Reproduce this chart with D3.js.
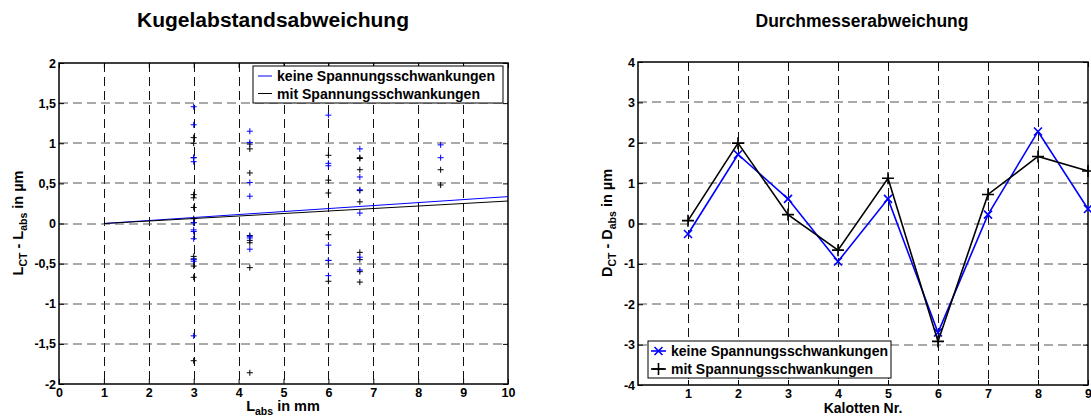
<!DOCTYPE html>
<html>
<head>
<meta charset="utf-8">
<script src="https://cdn.jsdelivr.net/npm/d3@7"></script>
<style>
  body { margin: 0; background: #fff; }
  svg { display: block; font-family: "Liberation Sans", Arial, sans-serif; font-weight: bold; }
</style>
</head>
<body>
<svg id="chart" width="1091" height="418"></svg>
<script>
// ---- left panel: Kugelabstandsabweichung ----
const leftXTicks = [0, 1, 2, 3, 4, 5, 6, 7, 8, 9, 10];
const leftYTicks = [-2, -1.5, -1, -0.5, 0, 0.5, 1, 1.5, 2];
const distances = [3, 4.25, 6, 6.7, 8.5];
// deviations per distance column
const keineDev = [
  [1.455, 1.23, 0.82, 0.77, 0.01, -0.08, -0.1, -0.19, -0.45, -0.47, -1.4],
  [1.15, 1.01, 0.51, 0.34, -0.16, -0.18, -0.32],
  [1.35, 0.75, 0.72, -0.27, -0.46, -0.65],
  [0.93, 0.58, 0.42, 0.13, -0.42, -0.58],
  [0.98, 0.82]
];
const mitDev = [
  [1.07, 1.0, 0.82, 0.36, 0.32, 0.2, 0.06, 0.01, -0.41, -0.44, -0.53, -0.67, -1.71],
  [0.99, 0.93, 0.63, -0.15, -0.21, -0.24, -0.55, -1.86],
  [0.85, 0.54, 0.38, -0.14, -0.46, -0.72],
  [0.82, 0.81, 0.67, 0.41, 0.27, -0.36, -0.45, -0.6, -0.73],
  [0.67, 0.48]
];
const fitX = [1, 10];
const keineFit = [0, 0.335];
const mitFit = [0, 0.28];

// ---- right panel: Durchmesserabweichung ----
const rightXTicks = [1, 2, 3, 4, 5, 6, 7, 8, 9];
const rightYTicks = [-4, -3, -2, -1, 0, 1, 2, 3, 4];
const kalotten = [1, 2, 3, 4, 5, 6, 7, 8, 9];
const keineD = [-0.26, 1.71, 0.61, -0.94, 0.61, -2.7, 0.22, 2.28, 0.36];
const mitD = [0.07, 1.99, 0.22, -0.66, 1.12, -2.92, 0.72, 1.66, 1.3];

const seriesNames = ['keine Spannungsschwankungen', 'mit Spannungsschwankungen'];
const blue = '#0000ff';
const black = '#000000';

const svg = d3.select('#chart');
const fmt = d => String(d).replace('.', ',');

// frame, grid, ticks, tick labels for one panel
function drawAxes(g, x, y, xTicks, yTicks) {
  const [x0, x1] = x.range();
  const [y0, y1] = y.range();

  // dashed grid
  g.append('g').selectAll('line').data(xTicks.filter(d => x(d) > x0 + 1 && x(d) < x1 - 1)).join('line')
    .attr('x1', d => Math.round(x(d)) + 0.5).attr('x2', d => Math.round(x(d)) + 0.5)
    .attr('y1', y1).attr('y2', y0)
    .attr('stroke', '#111').attr('stroke-dasharray', '9,5');
  g.append('g').selectAll('line').data(yTicks.filter(d => y(d) < y0 - 1 && y(d) > y1 + 1)).join('line')
    .attr('y1', d => Math.round(y(d))).attr('y2', d => Math.round(y(d)))
    .attr('x1', x0).attr('x2', x1)
    .attr('stroke', '#555').attr('stroke-dasharray', '9,5');

  // inward ticks on all four sides
  const tick = 5;
  const ax = [
    d3.axisBottom(x).tickValues(xTicks).tickSize(-tick).tickFormat(fmt),
    d3.axisTop(x).tickValues(xTicks).tickSize(-tick).tickFormat(''),
    d3.axisLeft(y).tickValues(yTicks).tickSize(-tick).tickFormat(fmt),
    d3.axisRight(y).tickValues(yTicks).tickSize(-tick).tickFormat('')
  ];
  const pos = [`translate(0,${y0})`, `translate(0,${y1})`, `translate(${x0},0)`, `translate(${x1},0)`];
  ax.forEach((a, i) => {
    const ag = g.append('g').attr('transform', pos[i]).call(a);
    ag.select('.domain').remove();
    ag.selectAll('line').attr('stroke', '#000');
    ag.selectAll('text')
      .attr('fill', '#000')
      .style('font-size', '12.5px')
      .style('font-family', '"Liberation Sans", Arial, sans-serif')
      .style('font-weight', 'bold');
    if (i === 0) ag.selectAll('text').attr('y', 4);
    if (i === 2) ag.selectAll('text').attr('x', -3);
  });

  // box
  g.append('rect')
    .attr('x', x0).attr('y', y1).attr('width', x1 - x0).attr('height', y0 - y1)
    .attr('fill', 'none').attr('stroke', '#000').attr('stroke-width', 1.5);
}

// label with subscripts: parts = [[text, isSub], ...]
function subLabel(t, parts) {
  parts.forEach(([s, sub], i) => {
    const prev = i > 0 && parts[i - 1][1];
    t.append('tspan')
      .attr('dy', sub ? 4 : (prev ? -4 : 0))
      .style('font-size', sub ? '10.5px' : null)
      .text(s);
  });
}

function plusPath(s) { return `M${-s},0H${s}M0,${-s}V${s}`; }
function crossPath(s) { return `M${-s},${-s}L${s},${s}M${-s},${s}L${s},${-s}`; }

const legendWidths = [218, 203];

// ================= left panel =================
const xL = d3.scaleLinear().domain([0, 10]).range([59, 508]);
const yL = d3.scaleLinear().domain([-2, 2]).range([384, 63]);
const gL = svg.append('g');
drawAxes(gL, xL, yL, leftXTicks, leftYTicks);

// fit lines
const fitLine = d3.line().x(d => xL(d[0])).y(d => yL(d[1]));
gL.append('path').datum(fitX.map((v, i) => [v, keineFit[i]]))
  .attr('d', fitLine).attr('fill', 'none').attr('stroke', blue).attr('stroke-width', 1);
gL.append('path').datum(fitX.map((v, i) => [v, mitFit[i]]))
  .attr('d', fitLine).attr('fill', 'none').attr('stroke', black).attr('stroke-width', 1);

// scatter points
[[mitDev, black], [keineDev, blue]].forEach(([set, col]) => {
  const pts = [];
  set.forEach((vals, i) => vals.forEach(v => pts.push([distances[i], v])));
  gL.append('g').selectAll('path').data(pts).join('path')
    .attr('transform', d => `translate(${xL(d[0])},${yL(d[1])})`)
    .attr('d', plusPath(3))
    .attr('stroke', col).attr('stroke-width', 1).attr('fill', 'none');
});

// legend (left)
const legL = gL.append('g').attr('transform', 'translate(253,66)');
legL.append('rect').attr('width', 250).attr('height', 37)
  .attr('fill', '#fff').attr('stroke', '#000').attr('stroke-width', 1);
seriesNames.forEach((name, i) => {
  const ly = 10 + i * 17.5;
  legL.append('line').attr('x1', 5).attr('x2', 19).attr('y1', ly).attr('y2', ly)
    .attr('stroke', i === 0 ? blue : black).attr('stroke-width', 1);
  legL.append('text').attr('x', 24).attr('y', ly + 5)
    .attr('textLength', legendWidths[i]).attr('lengthAdjust', 'spacingAndGlyphs')
    .style('font-size', '14px').text(name);
});

// titles and axis labels (left)
svg.append('text').attr('x', 273).attr('y', 27).attr('text-anchor', 'middle')
  .attr('textLength', 272).attr('lengthAdjust', 'spacingAndGlyphs')
  .style('font-size', '20px').text('Kugelabstandsabweichung');
subLabel(svg.append('text').attr('x', 283).attr('y', 411).attr('text-anchor', 'middle').style('font-size', '14.5px'),
  [['L', false], ['abs', true], ['  in mm', false]]);
subLabel(svg.append('text').attr('transform', 'translate(23,223) rotate(-90)').attr('text-anchor', 'middle').style('font-size', '14.5px'),
  [['L', false], ['CT', true], [' - L', false], ['abs', true], ['  in µm', false]]);

// ================= right panel =================
const xR = d3.scaleLinear().domain([0, 9]).range([638, 1088]);
const yR = d3.scaleLinear().domain([-4, 4]).range([385, 62]);
const gR = svg.append('g');
drawAxes(gR, xR, yR, rightXTicks, rightYTicks);

const valLine = d3.line().x(d => xR(d[0])).y(d => yR(d[1]));
const rightSeries = [
  { vals: keineD, col: blue, mark: crossPath(4) },
  { vals: mitD, col: black, mark: plusPath(6) }
];
rightSeries.forEach(s => {
  const pts = kalotten.map((k, i) => [k, s.vals[i]]);
  gR.append('path').datum(pts).attr('d', valLine)
    .attr('fill', 'none').attr('stroke', s.col).attr('stroke-width', 1.6);
  gR.append('g').selectAll('path').data(pts).join('path')
    .attr('transform', d => `translate(${xR(d[0])},${yR(d[1])})`)
    .attr('d', s.mark).attr('stroke', s.col).attr('stroke-width', 1.6).attr('fill', 'none');
});

// legend (right)
const legR = gR.append('g').attr('transform', 'translate(648,341)');
legR.append('rect').attr('width', 243).attr('height', 37)
  .attr('fill', '#fff').attr('stroke', '#000').attr('stroke-width', 1);
rightSeries.forEach((s, i) => {
  const ly = 10 + i * 18;
  legR.append('line').attr('x1', 3).attr('x2', 18).attr('y1', ly).attr('y2', ly)
    .attr('stroke', s.col).attr('stroke-width', 1.6);
  legR.append('path').attr('transform', `translate(10.5,${ly})`).attr('d', s.mark)
    .attr('stroke', s.col).attr('stroke-width', 1.6).attr('fill', 'none');
  legR.append('text').attr('x', 23).attr('y', ly + 5)
    .attr('textLength', legendWidths[i] - 1).attr('lengthAdjust', 'spacingAndGlyphs')
    .style('font-size', '14px').text(seriesNames[i]);
});

svg.append('text').attr('x', 862).attr('y', 27).attr('text-anchor', 'middle')
  .style('font-size', '17.5px').text('Durchmesserabweichung');
svg.append('text').attr('x', 863).attr('y', 413).attr('text-anchor', 'middle')
  .style('font-size', '14px').text('Kalotten Nr.');
subLabel(svg.append('text').attr('transform', 'translate(612,223) rotate(-90)').attr('text-anchor', 'middle').style('font-size', '14.5px'),
  [['D', false], ['CT', true], [' - D', false], ['abs', true], ['  in µm', false]]);
</script>
</body>
</html>
